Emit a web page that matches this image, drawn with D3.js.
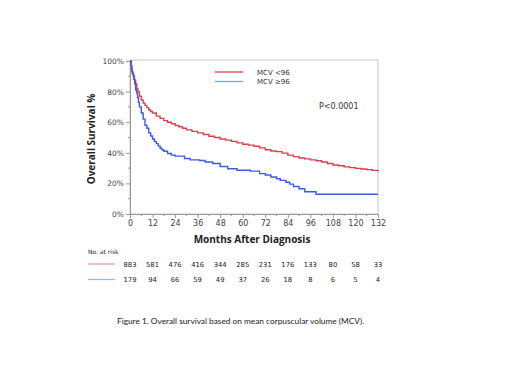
<!DOCTYPE html>
<html>
<head>
<meta charset="utf-8">
<script src="https://cdn.jsdelivr.net/npm/d3@7"></script>
<style>
  body { margin: 0; background: #fff; }
  svg { display: block; }
  .tick text { font-family: 'DejaVu Sans', sans-serif; font-size: 7.5px; fill: #444; }
  .axis path, .axis line { stroke: #999; }
</style>
</head>
<body>
<div id="chart"></div>
<script>
const lowMonths = [0, 0.7, 1.2, 1.8, 2.4, 3, 3.6, 4.2, 5, 6, 7, 8, 9, 10, 11, 12, 14, 16, 18, 20, 22, 24, 26, 28, 30, 33, 36, 39, 42, 45, 48, 51, 54, 57, 60, 63, 66, 69, 72, 75, 78, 81, 84, 87, 90, 93, 96, 99, 102, 105, 108, 111, 114, 117, 120, 123, 126, 129, 132]
const lowSurv = [100, 95, 92, 90, 87.5, 85, 82, 80, 77, 74.5, 72.5, 71, 69.5, 68, 67, 66, 64, 62.5, 61, 60, 59, 57.8, 57, 56, 55, 54, 53, 52, 50.8, 50, 49, 48.3, 47.5, 46.5, 45.6, 45, 44.3, 43.2, 42, 41.2, 40.8, 39.8, 38.5, 37.5, 36.6, 36, 35.4, 34.8, 34, 33, 32, 31.5, 30.8, 30.3, 29.8, 29.4, 29, 28.5, 27.8]

const highMonths = [0, 0.5, 1, 1.5, 2, 2.5, 3, 3.5, 4, 4.5, 5, 6, 7, 8, 9, 10, 11, 12, 13, 14, 15, 16, 17, 18, 20, 22, 24, 29, 32, 37, 40, 44, 48, 52, 57, 64, 69, 72, 75, 78, 80, 83, 85, 87, 90, 93, 99, 132]
const highSurv = [100, 97, 93, 91, 88, 85, 81, 79, 76, 73, 70, 66, 62, 58, 56, 53, 51, 49, 47.5, 46, 44.5, 43, 42, 41, 39.5, 38.5, 37.8, 36.3, 35.4, 35, 34, 33, 31, 29.6, 28.6, 28, 26.4, 25.5, 24.2, 23, 22, 20.8, 19.5, 18, 16.5, 14.5, 12.9, 12.9]

const xTicks = [0, 12, 24, 36, 48, 60, 72, 84, 96, 108, 120, 132]
const yTicks = [0, 20, 40, 60, 80, 100]
const riskLow = [883, 581, 476, 416, 344, 285, 231, 176, 133, 80, 58, 33]
const riskHigh = [179, 94, 66, 59, 49, 37, 26, 18, 8, 6, 5, 4]

const series = [
  { label: 'MCV <96', color: '#d7404c', legend: '#d7404c', pale: '#dba0a6', months: lowMonths, surv: lowSurv, risk: riskLow },
  { label: 'MCV \u226596', color: '#3a5ce0', legend: '#7ea5d8', pale: '#97b8df', months: highMonths, surv: highSurv, risk: riskHigh },
]

const width = 520
const height = 390
const plot = { left: 130, right: 378, top: 60, bottom: 214 }

const svg = d3.select('#chart').append('svg').attr('width', width).attr('height', height)

const x = d3.scaleLinear().domain([0, 132]).range([plot.left, plot.right])
const y = d3.scaleLinear().domain([0, 100]).range([plot.bottom, 61])

// frame
svg.append('rect')
  .attr('x', plot.left).attr('y', plot.top)
  .attr('width', plot.right - plot.left).attr('height', plot.bottom - plot.top)
  .attr('fill', 'none').attr('stroke', '#c8c8c8').attr('stroke-width', 1)

// minor ticks
const minorY = d3.range(10, 100, 20)
svg.append('g').selectAll('line').data(minorY).join('line')
  .attr('x1', plot.left - 2).attr('x2', plot.left)
  .attr('y1', (d) => y(d)).attr('y2', (d) => y(d))
  .attr('stroke', '#999')
const minorX = d3.range(6, 132, 12)
svg.append('g').selectAll('line').data(minorX).join('line')
  .attr('x1', (d) => x(d)).attr('x2', (d) => x(d))
  .attr('y1', plot.bottom).attr('y2', plot.bottom + 2)
  .attr('stroke', '#999')

svg.append('g').attr('class', 'axis')
  .attr('transform', `translate(${plot.left},0)`)
  .call(d3.axisLeft(y).tickValues(yTicks).tickSize(4).tickPadding(2).tickFormat((d) => d + '%'))

const xAxisG = svg.append('g').attr('class', 'axis')
  .attr('transform', `translate(0,${plot.bottom})`)
  .call(d3.axisBottom(x).tickValues(xTicks).tickSize(4).tickPadding(2))
xAxisG.selectAll('.tick text').style('font-size', '8px')

// curves
const line = d3.line()
  .x((d) => x(d[0]))
  .y((d) => y(d[1]))
  .curve(d3.curveStepAfter)

series.forEach((s) => {
  const pts = s.months.map((m, i) => [m, s.surv[i]])
  svg.append('path')
    .attr('d', line(pts))
    .attr('fill', 'none')
    .attr('stroke', s.color)
    .attr('stroke-width', 1.4)
})

// legend
series.forEach((s, i) => {
  const ly = 72 + i * 9.5
  svg.append('line').attr('x1', 215).attr('x2', 243).attr('y1', ly).attr('y2', ly)
    .attr('stroke', s.legend).attr('stroke-width', 1.3)
  svg.append('text').attr('x', 257).attr('y', ly + 2.5).text(s.label)
    .style('font-family', "'DejaVu Sans', sans-serif").style('font-size', '7px').attr('fill', '#333')
})

svg.append('text').attr('x', 319).attr('y', 109).text('P<0.0001')
  .style('font-family', "'DejaVu Sans', sans-serif").style('font-size', '8px').attr('fill', '#333')

// axis titles
svg.append('text')
  .attr('transform', `translate(95,${(plot.top + plot.bottom) / 2 + 2}) rotate(-90)`)
  .attr('text-anchor', 'middle')
  .text('Overall Survival %')
  .style('font-family', "'Open Sans', sans-serif").style('font-size', '10px').style('font-weight', 'bold').attr('fill', '#222')

svg.append('text')
  .attr('x', 252).attr('y', 243)
  .attr('text-anchor', 'middle')
  .text('Months After Diagnosis')
  .style('font-family', "'Open Sans', sans-serif").style('font-size', '10px').style('font-weight', 'bold').attr('fill', '#222')

// risk table
svg.append('text').attr('x', 88).attr('y', 254).text('No. at risk')
  .style('font-family', "'DejaVu Sans', sans-serif").style('font-size', '6px').attr('fill', '#222')

series.forEach((s, i) => {
  const ry = 264 + i * 15.5
  svg.append('line').attr('x1', 88).attr('x2', 115).attr('y1', ry).attr('y2', ry)
    .attr('stroke', s.pale).attr('stroke-width', 1.3)
  svg.append('g').selectAll('text').data(s.risk).join('text')
    .attr('x', (d, j) => x(xTicks[j]))
    .attr('y', ry + 2.5)
    .attr('text-anchor', 'middle')
    .text((d) => d)
    .style('font-family', "'DejaVu Sans', sans-serif").style('font-size', '6.8px').attr('fill', '#222')
})

// caption
svg.append('text').attr('x', 117).attr('y', 324)
  .text('Figure 1. Overall survival based on mean corpuscular volume (MCV).')
  .style('font-family', 'Lato, sans-serif').style('font-size', '8.3px').attr('fill', '#222')
</script>
</body>
</html>
